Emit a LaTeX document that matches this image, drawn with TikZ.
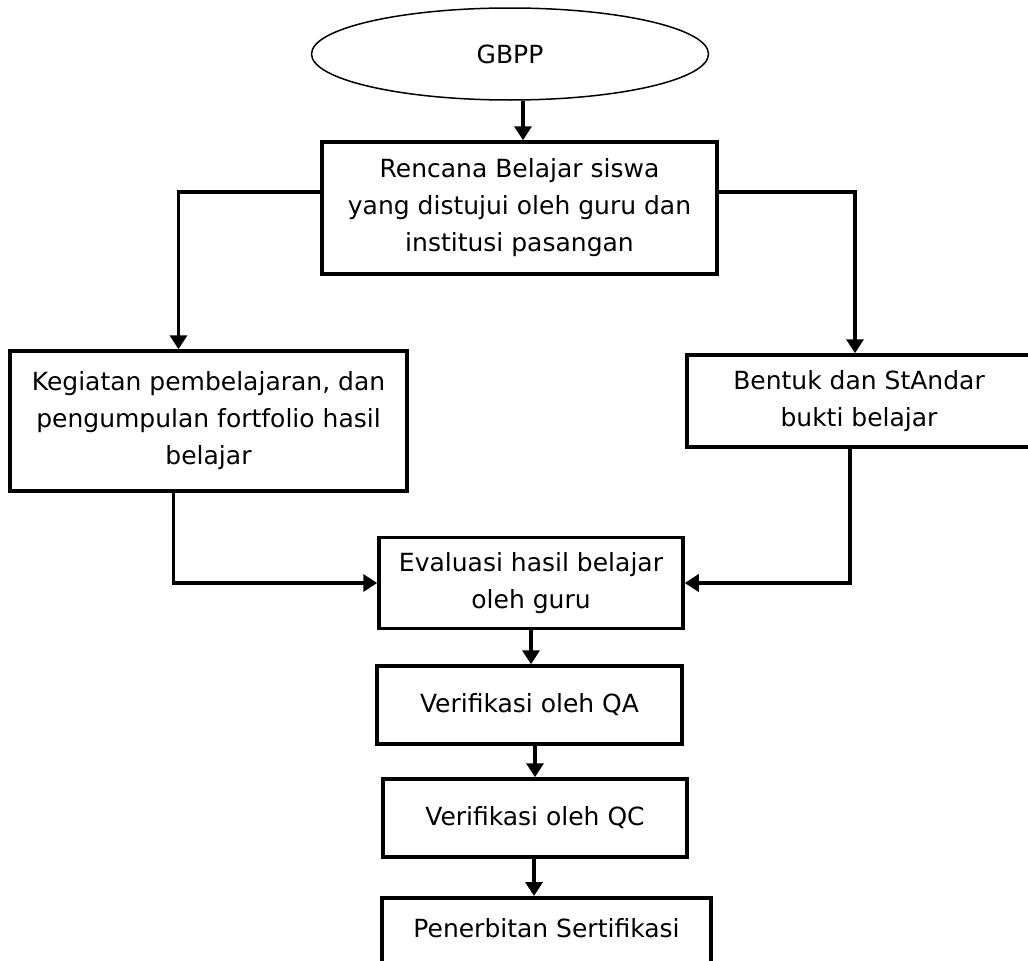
\documentclass[tikz,border=0pt]{standalone}
\usepackage{fontspec}
\setmainfont{DejaVu Sans}
\usepackage{tikz}
\usetikzlibrary{arrows.meta, positioning, shapes.geometric}

\begin{document}
\begin{tikzpicture}[x=1pt, y=-1pt,
    box/.style={draw, line width=3.5pt, rectangle, align=center, inner sep=0pt,
        font=\fontsize{25}{37}\selectfont},
    arr/.style={line width=3.5pt, -{Triangle[length=14pt, width=17pt]}}]
    \useasboundingbox (0,0) rectangle (1028,961);

    \node[draw, ellipse, line width=1.5pt, minimum width=397pt, minimum height=92pt,
        font=\fontsize{25}{37}\selectfont] (gbpp) at (510,54) {GBPP};

    \node[box, minimum width=395pt, minimum height=132pt] (rencana) at (519.5,208)
        {Rencana Belajar siswa\\yang distujui oleh guru dan\\institusi pasangan};
    \node[box, minimum width=397pt, minimum height=140pt] (kegiatan) at (208.5,421)
        {Kegiatan pembelajaran, dan\\pengumpulan fortfolio hasil\\belajar};
    \node[box, minimum width=344pt, minimum height=92pt] (bentuk) at (859,401)
        {Bentuk dan StAndar\\bukti belajar};
    \node[box, minimum width=304pt, minimum height=91pt] (evaluasi) at (531,583)
        {Evaluasi hasil belajar\\oleh guru};
    \node[box, minimum width=305pt, minimum height=78pt] (verQA) at (529.5,705)
        {Verifikasi oleh QA};
    \node[box, minimum width=304pt, minimum height=78pt] (verQC) at (535,818)
        {Verifikasi oleh QC};
    \node[box, minimum width=329pt, anchor=north, inner ysep=20pt,
        text height=20pt, text depth=50pt] (terbit) at (546.5,896)
        {Penerbitan Sertifikasi};

    % arrows
    \draw[arr] ([xshift=3.5pt]rencana.north |- gbpp.south) -- ([xshift=3.5pt]rencana.north);
    \draw[arr] ([yshift=16pt]rencana.west) -| ([xshift=-30pt]kegiatan.north);
    \draw[arr] ([yshift=16pt]rencana.east) -| ([xshift=-4pt]bentuk.north);
    \draw[arr] ([xshift=-35pt]kegiatan.south) |- (evaluasi.west);
    \draw[arr] ([xshift=-9pt]bentuk.south) |- (evaluasi.east);
    \draw[arr] (evaluasi.south) -- (evaluasi.south |- verQA.north);
    \draw[arr] (verQC.north |- verQA.south) -- (verQC.north);
    \draw[arr] ([xshift=-1pt]verQC.south) -- ([xshift=-1pt]verQC.south |- terbit.north);
\end{tikzpicture}
\end{document}
